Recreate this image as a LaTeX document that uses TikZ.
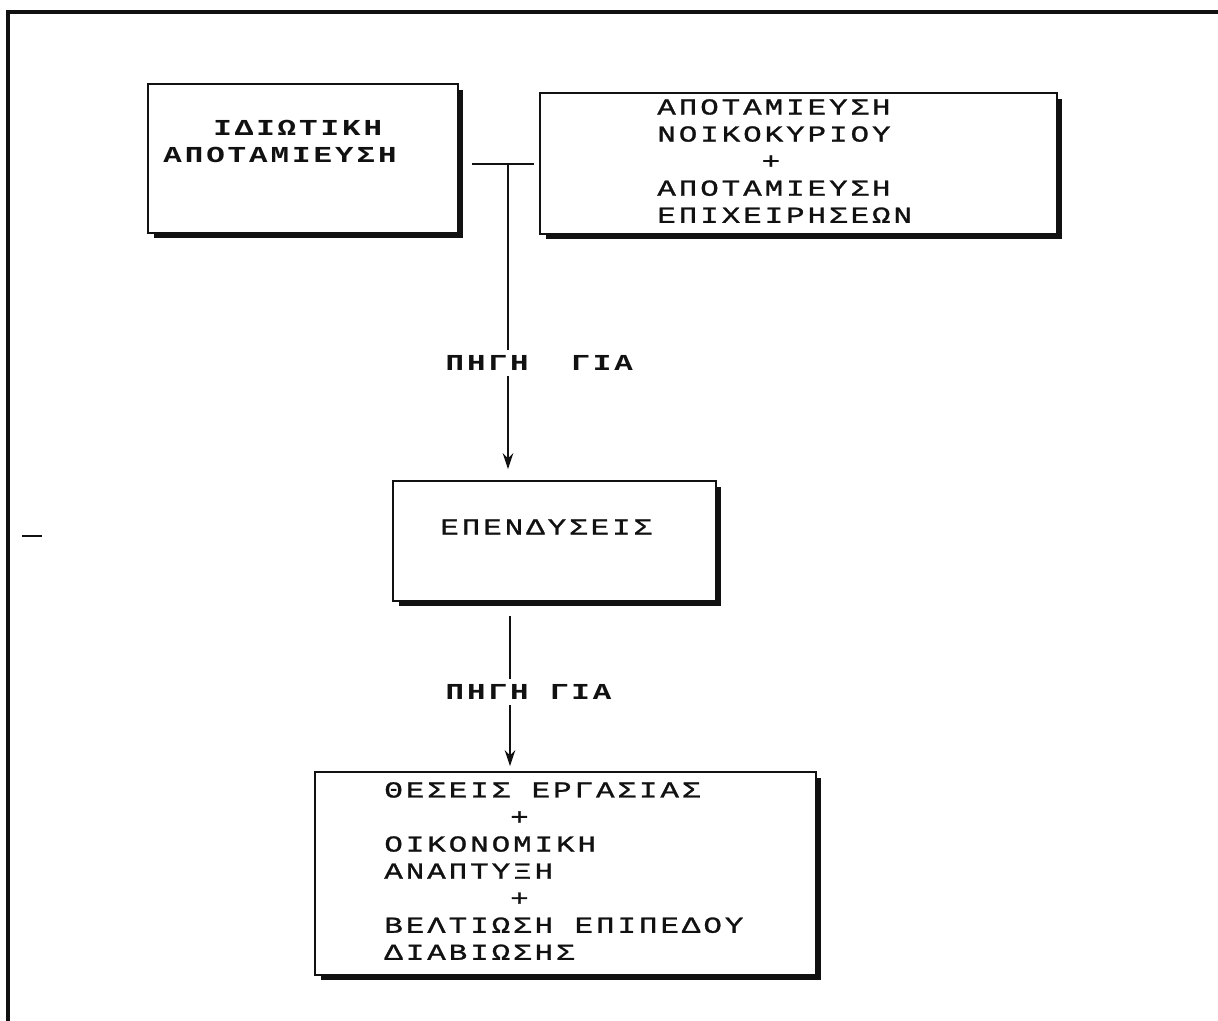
\documentclass[tikz,border=0pt]{standalone}
\usepackage{fontspec}
\usepackage{tikz}
\usetikzlibrary{positioning, arrows.meta, calc, shadows}
\newfontfamily\typer{Liberation Mono}[FakeStretch=1.35, LetterSpace=13, FakeBold=1.2]
\newfontfamily\typerbold{Liberation Mono Bold}[FakeStretch=1.35, LetterSpace=13]
\definecolor{ink}{HTML}{111111}

\begin{document}
\begin{tikzpicture}[x=0.02cm, y=-0.02cm,
      every node/.style={font=\typer\fontsize{13}{15.4}\selectfont, text=ink},
      card/.style={draw=ink, fill=white, line width=1.1pt,
        drop shadow={shadow xshift=0.11cm, shadow yshift=-0.11cm, fill=ink, opacity=1}},
      txt/.style={anchor=west, inner sep=0pt, align=left},
      flow/.style={-{Stealth[length=9pt, width=6pt]}, line width=1pt, color=ink},
      tag/.style={anchor=west, fill=white, inner sep=3pt, font=\typerbold\fontsize{13}{15.4}\selectfont}]

    \useasboundingbox (0, 0) rectangle (1218, 1021);

    % page frame
    \draw[line width=2pt, color=ink] (8, 1021) -- (8, 12) -- (1218, 12);
    \draw[line width=1.6pt, color=ink] (22, 536) -- (42, 536);

    \node[card, minimum width=6.2cm, minimum height=2.98cm] at (303, 158.5) (private) {};
    \node[txt, font=\typerbold\fontsize{13}{15.4}\selectfont] at (163, 141.5)
      {\hspace{1cm}ΙΔΙΩΤΙΚΗ\\ΑΠΟΤΑΜΙΕΥΣΗ};

    \node[card, minimum width=10.34cm, minimum height=2.82cm] at (798.5, 163.5) (households) {};
    \node[txt] at (657, 161)
      {ΑΠΟΤΑΜΙΕΥΣΗ\\ΝΟΙΚΟΚΥΡΙΟΥ\\\phantom{ΑΠΟΤΑ}+\\ΑΠΟΤΑΜΙΕΥΣΗ\\ΕΠΙΧΕΙΡΗΣΕΩΝ};

    \node[card, minimum width=6.46cm, minimum height=2.4cm] at (554.5, 541) (invest) {};
    \node[txt] at (440, 527) {ΕΠΕΝΔΥΣΕΙΣ};

    \node[card, minimum width=10.02cm, minimum height=4.06cm] at (565.5, 873.5) (outcomes) {};
    \node[txt] at (384, 871)
      {ΘΕΣΕΙΣ ΕΡΓΑΣΙΑΣ\\\phantom{ΘΕΣΕΙΣ}+\\ΟΙΚΟΝΟΜΙΚΗ\\ΑΝΑΠΤΥΞΗ\\\phantom{ΘΕΣΕΙΣ}+\\ΒΕΛΤΙΩΣΗ ΕΠΙΠΕΔΟΥ\\ΔΙΑΒΙΩΣΗΣ};

    % connectors
    \coordinate (tee) at (508, 164);
    \draw[line width=1pt, color=ink, shorten <=0.26cm, shorten >=0.1cm]
      (private.east |- tee) -- (households.west |- tee);
    \draw[flow, shorten >=0.22cm] (tee) -- (tee |- invest.north);
    \coordinate (drop) at (510, 601);
    \draw[flow, shorten <=0.3cm, shorten >=0.1cm] (drop) -- (drop |- outcomes.north);

    \node[tag] at (440, 363) (src1) {ΠΗΓΗ\ \ ΓΙΑ};
    \node[tag] at (440, 692) (src2) {ΠΗΓΗ ΓΙΑ};
  \end{tikzpicture}
\end{document}
